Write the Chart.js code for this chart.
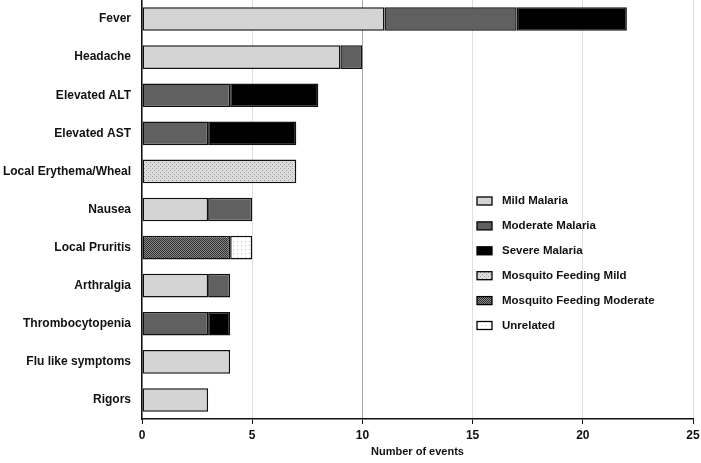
<!DOCTYPE html>
<html>
<head>
<meta charset="utf-8">
<script src="https://cdn.jsdelivr.net/npm/chart.js@4/dist/chart.umd.min.js"></script>
<style>
  html, body { margin: 0; padding: 0; background: #fff; }
  #wrap { width: 701px; height: 463px; }
</style>
</head>
<body>
<div id="wrap"><canvas id="eventsChart"></canvas></div>
<script>
const categories = ["Fever", "Headache", "Elevated ALT", "Elevated AST", "Local Erythema/Wheal",
  "Nausea", "Local Pruritis", "Arthralgia", "Thrombocytopenia", "Flu like symptoms", "Rigors"];
const mildMalaria     = [11, 9, 0, 0, 0, 3, 0, 3, 0, 4, 3];
const moderateMalaria = [6, 1, 4, 3, 0, 2, 0, 1, 3, 0, 0];
const severeMalaria   = [5, 0, 4, 4, 0, 0, 0, 0, 1, 0, 0];
const mosquitoMild    = [0, 0, 0, 0, 7, 0, 0, 0, 0, 0, 0];
const mosquitoModerate= [0, 0, 0, 0, 0, 0, 4, 0, 0, 0, 0];
const unrelated       = [0, 0, 0, 0, 0, 0, 1, 0, 0, 0, 0];
const xTicks = [0, 5, 10, 15, 20, 25];

// small fill patterns
function makePattern(bg, fg, cells) {
  const c = document.createElement("canvas");
  c.width = 4; c.height = 4;
  const g = c.getContext("2d");
  g.fillStyle = bg;
  g.fillRect(0, 0, 4, 4);
  g.fillStyle = fg;
  cells.forEach(([x, y]) => g.fillRect(x, y, 1, 1));
  return g.createPattern(c, "repeat");
}
const mosqMildFill = makePattern("#dcdcdc", "#9a9a9a", [[0, 0], [2, 2]]);
const mosqModFill = makePattern("#8a8a8a", "#2e2e2e", [[0, 0], [2, 0], [1, 1], [3, 1], [0, 2], [2, 2], [1, 3], [3, 3]]);
const unrelatedFill = makePattern("#ffffff", "#c4c4c4", [[1, 1]]);

const nz = arr => arr.map(v => (v === 0 ? null : v));

const series = [
  { label: "Mild Malaria", data: mildMalaria, fill: "#d4d4d4" },
  { label: "Moderate Malaria", data: moderateMalaria, fill: "#606060" },
  { label: "Severe Malaria", data: severeMalaria, fill: "#000000" },
  { label: "Mosquito Feeding Mild", data: mosquitoMild, fill: mosqMildFill },
  { label: "Mosquito Feeding Moderate", data: mosquitoModerate, fill: mosqModFill },
  { label: "Unrelated", data: unrelated, fill: unrelatedFill }
];

const FONT = "'Liberation Sans', Arial, sans-serif";

// legend drawn inside the plot area
const boxLegend = {
  id: "boxLegend",
  afterDraw(chart) {
    const c = chart.ctx;
    c.save();
    c.font = "bold 11.5px " + FONT;
    c.textBaseline = "middle";
    chart.data.datasets.forEach((ds, i) => {
      const y = 201 + i * 24.9;
      c.fillStyle = ds.backgroundColor;
      c.fillRect(477, y - 4, 15, 8);
      c.strokeStyle = "#000";
      c.lineWidth = 1.3;
      c.strokeRect(477, y - 4, 15, 8);
      c.fillStyle = "#111";
      c.fillText(ds.label, 502, y);
    });
    c.restore();
  }
};

new Chart(document.getElementById("eventsChart"), {
  type: "bar",
  data: {
    labels: categories,
    datasets: series.map(s => ({
      label: s.label,
      data: nz(s.data),
      backgroundColor: s.fill,
      borderColor: "#111",
      borderWidth: 1.5,
      borderSkipped: false,
      barPercentage: 0.62,
      categoryPercentage: 1
    }))
  },
  options: {
    indexAxis: "y",
    responsive: true,
    maintainAspectRatio: false,
    animation: false,
    layout: { padding: 0 },
    plugins: { legend: { display: false }, tooltip: { enabled: false } },
    scales: {
      x: {
        stacked: true,
        min: 0,
        max: 25,
        afterBuildTicks: s => { s.ticks = xTicks.map(v => ({ value: v })); },
        afterFit: s => { s.height = 44; s.paddingLeft = 0; s.paddingRight = 8; },
        ticks: { color: "#111", font: { family: FONT, size: 12, weight: "bold" }, padding: 4 },
        grid: {
          color: c => (c.tick && c.tick.value === 10 ? "#a8a8a8" : "#dedede"),
          lineWidth: 1,
          tickColor: "#111",
          tickLength: 5,
          drawTicks: true
        },
        border: { color: "#111", width: 1.5 },
        title: {
          display: true,
          text: "Number of events",
          color: "#111",
          font: { family: FONT, size: 11, weight: "bold" },
          padding: { top: 4, bottom: 4 }
        }
      },
      y: {
        stacked: true,
        afterFit: s => { s.width = 142; s.paddingTop = 0; s.paddingBottom = 0; },
        ticks: { color: "#111", font: { family: FONT, size: 12, weight: "bold" }, padding: 11 },
        grid: { display: false, drawTicks: false, tickLength: 0 },
        border: { color: "#111", width: 1.5 }
      }
    }
  },
  plugins: [boxLegend]
});
</script>
</body>
</html>
